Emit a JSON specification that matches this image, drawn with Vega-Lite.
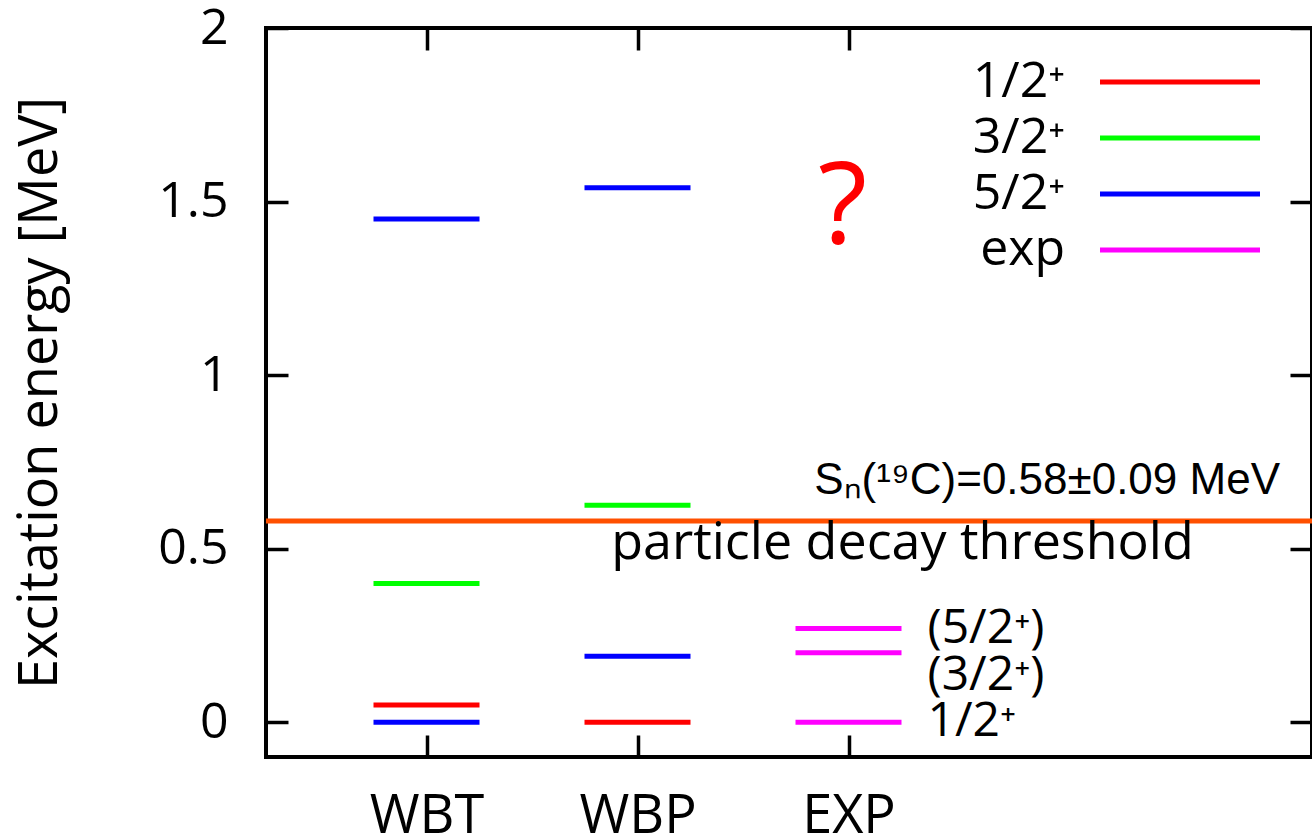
{
  "$schema": "https://vega.github.io/schema/vega-lite/v6.json",
  "width": 1046,
  "height": 729,
  "autosize": {"type": "none"},
  "padding": {"left": 266, "top": 28, "right": 0, "bottom": 80},
  "background": "white",
  "config": {"view": {"stroke": "black", "strokeWidth": 4}, "font": "Open Sans", "axis": {"grid": false}},
  "datasets": {
    "levels": [
      {"set": "WBT", "jp": "1/2⁺", "energy": 0.05},
      {"set": "WBT", "jp": "3/2⁺", "energy": 0.40},
      {"set": "WBT", "jp": "5/2⁺", "energy": 0.0},
      {"set": "WBT", "jp": "5/2⁺", "energy": 1.45},
      {"set": "WBP", "jp": "1/2⁺", "energy": 0.0},
      {"set": "WBP", "jp": "3/2⁺", "energy": 0.625},
      {"set": "WBP", "jp": "5/2⁺", "energy": 0.19},
      {"set": "WBP", "jp": "5/2⁺", "energy": 1.54},
      {"set": "EXP", "jp": "exp", "energy": 0.0, "note": "1/2⁺"},
      {"set": "EXP", "jp": "exp", "energy": 0.2, "note": "(3/2⁺)"},
      {"set": "EXP", "jp": "exp", "energy": 0.27, "note": "(5/2⁺)"}
    ],
    "threshold": [
      {"energy": 0.58, "sn": "Sₙ(¹⁹C)=0.58±0.09 MeV", "label": "particle decay threshold"}
    ]
  },
  "layer": [
    {
      "data": {"name": "threshold"},
      "mark": {"type": "rule", "color": "#ff5000", "strokeWidth": 5},
      "encoding": {
        "y": {"field": "energy", "type": "quantitative", "scale": {"domain": [-0.1, 2], "nice": false, "zero": false}, "axis": null}
      }
    },
    {
      "data": {"name": "threshold"},
      "mark": {"type": "text", "align": "right", "baseline": "alphabetic", "font": "Liberation Sans", "fontSize": 44, "dx": -32, "dy": -27, "color": "black"},
      "encoding": {
        "x": {"value": "width"},
        "y": {"field": "energy", "type": "quantitative", "axis": null},
        "text": {"field": "sn"}
      }
    },
    {
      "data": {"name": "threshold"},
      "mark": {"type": "text", "align": "center", "baseline": "alphabetic", "font": "Open Sans", "fontSize": 52, "dx": 54, "dy": 38, "color": "black"},
      "encoding": {
        "x": {"datum": "EXP", "type": "nominal", "axis": null},
        "y": {"field": "energy", "type": "quantitative", "axis": null},
        "text": {"field": "label"}
      }
    },
    {
      "data": {"name": "levels"},
      "mark": {"type": "rule", "strokeWidth": 5, "xOffset": -53, "x2Offset": 53},
      "encoding": {
        "x": {
          "field": "set", "type": "nominal", "sort": null,
          "scale": {"type": "point", "domain": ["WBT", "WBP", "EXP"], "range": [160.5, 582.5], "padding": 0},
          "axis": {
            "orient": "bottom", "title": null, "labelAngle": 0,
            "labelFont": "Open Sans", "labelFontSize": 54, "labelColor": "black", "labelPadding": 54,
            "tickSize": -22, "tickWidth": 3.5, "tickColor": "black",
            "domain": false
          }
        },
        "x2": {"field": "set"},
        "y": {
          "field": "energy", "type": "quantitative",
          "axis": {
            "orient": "left", "title": "Excitation energy [MeV]",
            "titleFont": "Open Sans", "titleFontSize": 54, "titleFontWeight": "normal", "titleColor": "black", "titlePadding": 90,
            "values": [0, 0.5, 1, 1.5, 2], "format": "~g",
            "labelFont": "Open Sans", "labelFontSize": 50, "labelColor": "black", "labelPadding": 60, "labelFlush": false,
            "tickSize": -22, "tickWidth": 3.5, "tickColor": "black",
            "domain": false
          }
        },
        "color": {
          "field": "jp", "type": "nominal",
          "scale": {"domain": ["1/2⁺", "3/2⁺", "5/2⁺", "exp"], "range": ["#ff0000", "#00ff00", "#0000ff", "#ff00ff"]},
          "legend": {
            "orient": "none", "legendX": 889, "legendY": 29, "title": null,
            "symbolType": "M-8,0H8", "symbolSize": 400, "symbolStrokeWidth": 5,
            "labelFont": "Open Sans", "labelFontSize": 50, "labelColor": "black",
            "labelAlign": "right", "labelOffset": -140, "labelLimit": 300,
            "rowPadding": 6, "padding": 0
          }
        }
      }
    },
    {
      "data": {"name": "levels"},
      "transform": [{"filter": "datum.note && datum.note !== '(3/2⁺)'"}],
      "mark": {"type": "text", "align": "left", "baseline": "middle", "font": "Open Sans", "fontSize": 48, "dx": 79, "color": "black"},
      "encoding": {
        "x": {"field": "set", "type": "nominal", "axis": null},
        "y": {"field": "energy", "type": "quantitative", "axis": null},
        "text": {"field": "note"}
      }
    },
    {
      "data": {"name": "levels"},
      "transform": [{"filter": "datum.note === '(3/2⁺)'"}],
      "mark": {"type": "text", "align": "left", "baseline": "middle", "font": "Open Sans", "fontSize": 48, "dx": 79, "dy": 23, "color": "black"},
      "encoding": {
        "x": {"field": "set", "type": "nominal", "axis": null},
        "y": {"field": "energy", "type": "quantitative", "axis": null},
        "text": {"field": "note"}
      }
    },
    {
      "data": {"values": [{"mark": "?", "energy": 1.38, "set": "EXP"}]},
      "mark": {"type": "text", "align": "center", "baseline": "alphabetic", "font": "Open Sans", "fontWeight": 500, "fontSize": 114, "dx": -6, "color": "#ff0000"},
      "encoding": {
        "x": {
          "field": "set", "type": "nominal",
          "axis": {"orient": "top", "title": null, "labels": false, "tickSize": -22, "tickWidth": 3.5, "tickColor": "black", "domain": false}
        },
        "y": {
          "field": "energy", "type": "quantitative",
          "axis": {"orient": "right", "title": null, "labels": false, "values": [0, 0.5, 1, 1.5, 2], "tickSize": -22, "tickWidth": 3.5, "tickColor": "black", "domain": false}
        },
        "text": {"field": "mark"}
      }
    }
  ],
  "resolve": {"axis": {"x": "independent", "y": "independent"}}
}
